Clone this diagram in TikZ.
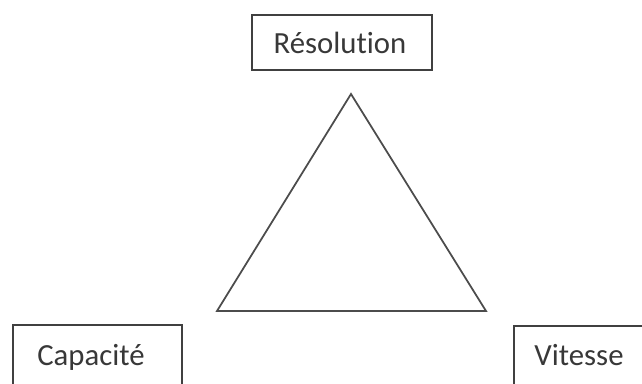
\documentclass[tikz,border=0pt]{standalone}
\usepackage{fontspec}
\setmainfont{Carlito}[Ligatures=NoCommon]
\begin{document}
\begin{tikzpicture}[x=0.02cm, y=-0.02cm,
          critbox/.style={draw=black!75, line width=1.1pt},
          crit/.style={text=black!78, font=\fontsize{17.5}{20}\selectfont, anchor=base, inner sep=0pt},
          tri/.style={draw=black!70, line width=1pt},
        ]
        \useasboundingbox (0,0) rectangle (642,383);
        \clip (0,0) rectangle (642,383);
        \draw[critbox] (252,15) rectangle (432,70);
        \node[crit] (reso) at (340,53) {Résolution};
        \draw[tri] (351,94) -- (486,311) -- (217,311) -- cycle;
        \draw[critbox] (13,325) rectangle (182,400);
        \node[crit] (capa) at (91,365) {Capacité};
        \draw[critbox] (514,326) rectangle (660,400);
        \node[crit] (vite) at (579,365) {Vitesse};
      \end{tikzpicture}
\end{document}
